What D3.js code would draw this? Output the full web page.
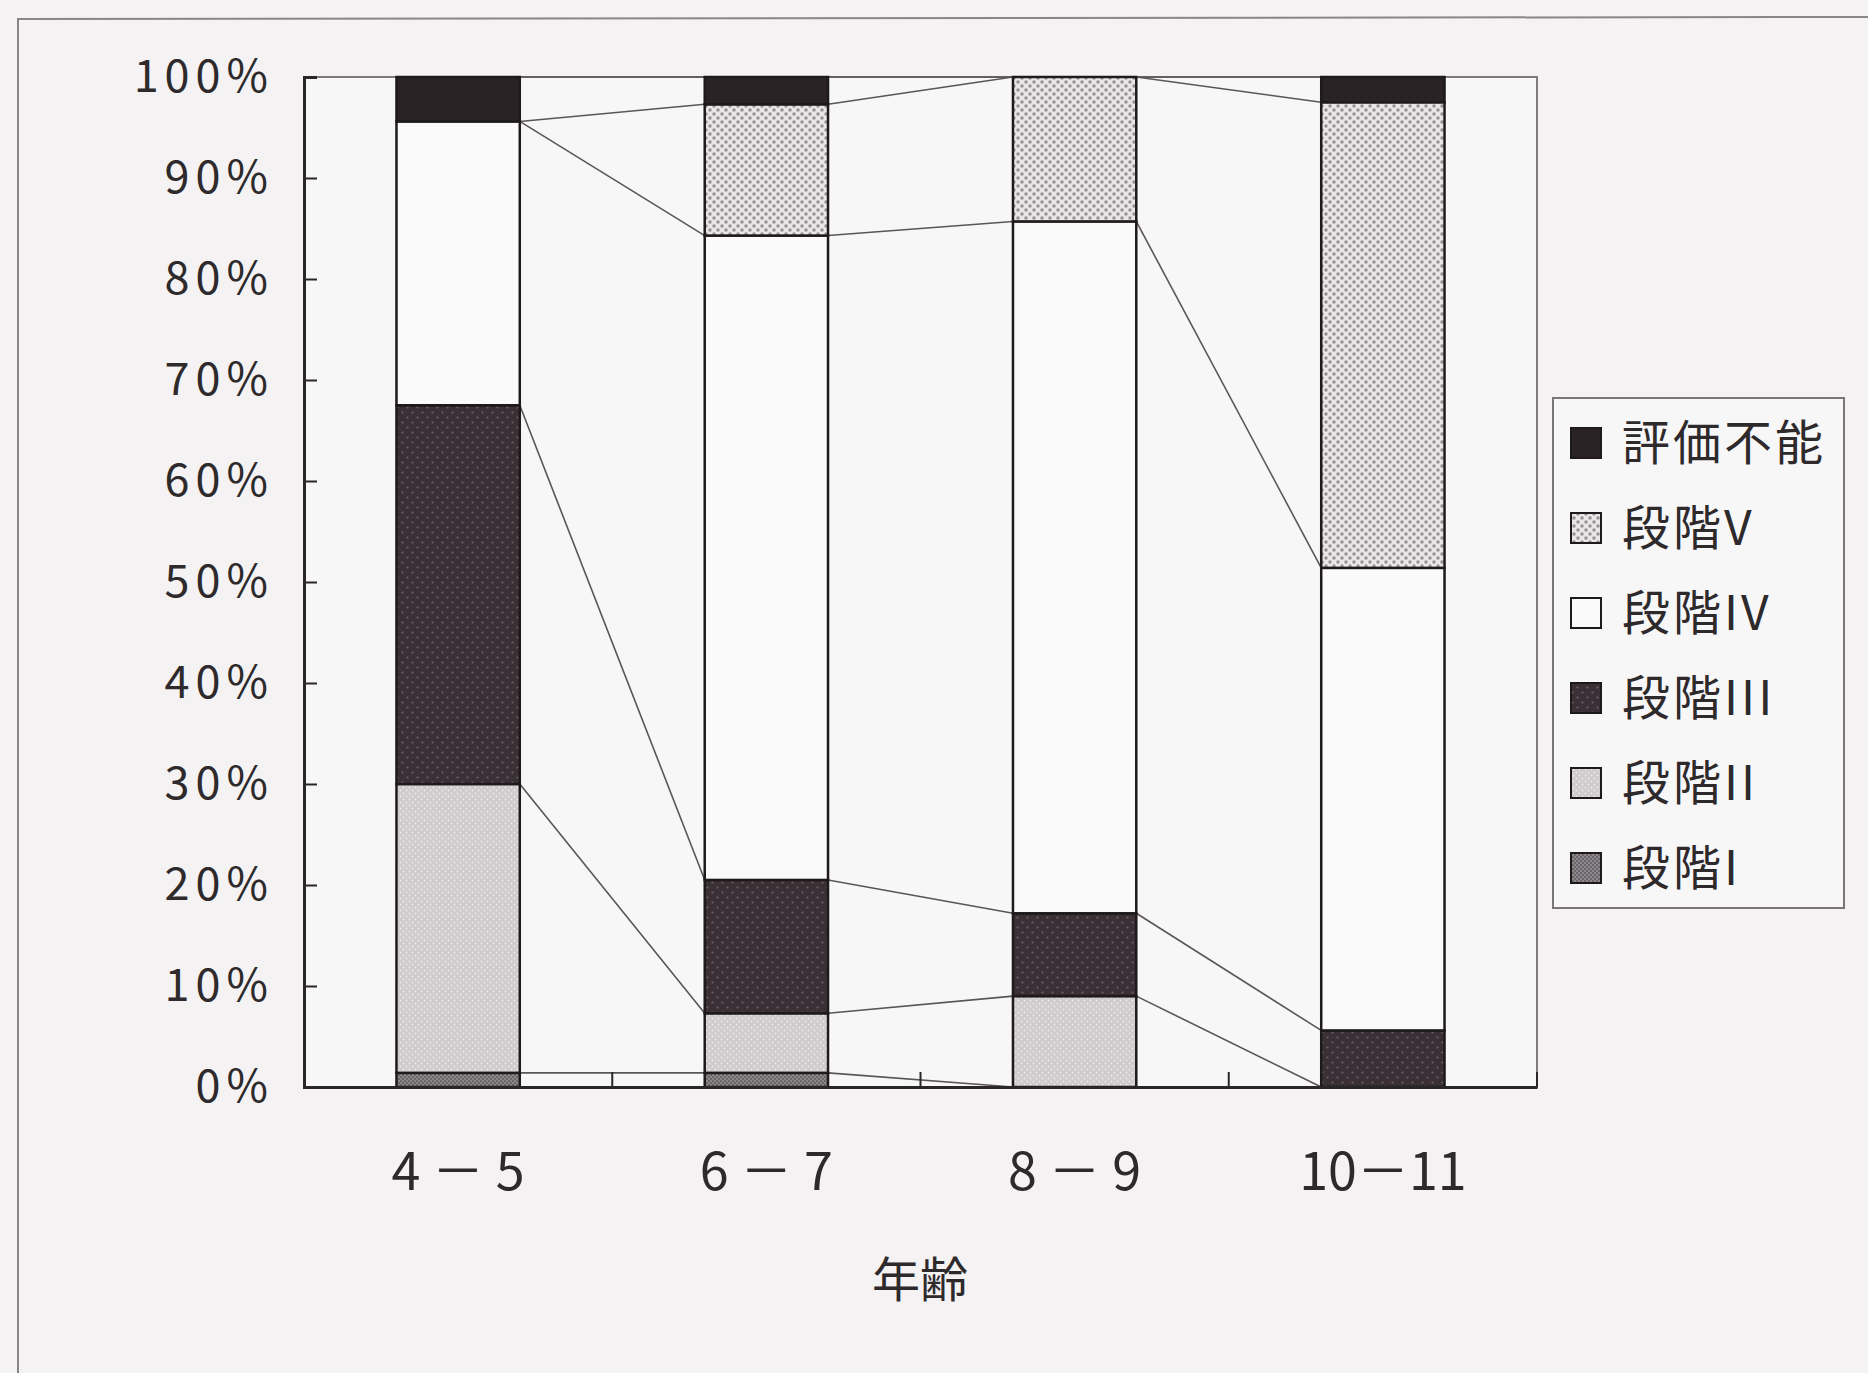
<!DOCTYPE html>
<html>
<head>
<meta charset="utf-8">
<script src="https://cdn.jsdelivr.net/npm/d3@7"></script>
<style>
  body { margin: 0; background: #f4f2f3; }
  text { font-family: "Noto Sans CJK JP", "Noto Sans", sans-serif; fill: #2e2a2c; }
</style>
</head>
<body>
<script>
// age groups and share (%) of each stage, bottom to top
var ages = ['4 － 5', '6 － 7', '8 － 9', '10－11'];
var stageI   = [1.4, 1.4, 0, 0];
var stageII  = [28.6, 5.9, 9.0, 0];
var stageIII = [37.5, 13.2, 8.2, 5.6];
var stageIV  = [28.1, 63.8, 68.5, 45.8];
var stageV   = [0, 13.0, 14.3, 46.1];
var unrated  = [4.4, 2.7, 0, 2.5];
var keys = ['段階I', '段階II', '段階III', '段階IV', '段階V', '評価不能'];
var yTicks = [0, 10, 20, 30, 40, 50, 60, 70, 80, 90, 100];

var width = 1868,
  height = 1373,
  plotLeft = 304,
  plotRight = 1537,
  plotTop = 77,
  plotBottom = 1087;

var rows = ages.map(function(a, i) {
  return {
    age: a,
    '段階I': stageI[i],
    '段階II': stageII[i],
    '段階III': stageIII[i],
    '段階IV': stageIV[i],
    '段階V': stageV[i],
    '評価不能': unrated[i]
  };
});

var svg = d3.select('body').append('svg').attr('width', width).attr('height', height);

// patterns for the scanned fills
var defs = svg.append('defs');
function dots(id, bg, dot, size, r) {
  var p = defs.append('pattern').attr('id', id).attr('patternUnits', 'userSpaceOnUse')
    .attr('width', size).attr('height', size);
  p.append('rect').attr('width', size).attr('height', size).attr('fill', bg);
  p.append('circle').attr('cx', size / 4).attr('cy', size / 4).attr('r', r).attr('fill', dot);
  p.append('circle').attr('cx', size * 3 / 4).attr('cy', size * 3 / 4).attr('r', r).attr('fill', dot);
}
dots('pI', '#8c878a', '#5a5558', 4, 0.9);
dots('pII', '#cfcbce', '#ecebec', 6, 0.9);
dots('pIII', '#3a3035', '#6a6267', 10, 1.1);
dots('pV', '#e8e6e7', '#959093', 8, 1.7);

var fills = {
  '段階I': 'url(#pI)',
  '段階II': 'url(#pII)',
  '段階III': 'url(#pIII)',
  '段階IV': '#fafafa',
  '段階V': 'url(#pV)',
  '評価不能': '#2a2326'
};

// outer chart border
svg.append('path')
  .attr('d', 'M18,' + (height + 5) + 'L18,19L' + (width + 5) + ',17')
  .attr('fill', 'none').attr('stroke', '#8a8688').attr('stroke-width', 2);

var x = d3.scaleBand().domain(ages).range([plotLeft, plotRight]).paddingInner(0.6).paddingOuter(0.3);
var y = d3.scaleLinear().domain([0, 100]).range([plotBottom, plotTop]);

// plot area
svg.append('rect')
  .attr('x', plotLeft).attr('y', plotTop).attr('width', plotRight - plotLeft).attr('height', plotBottom - plotTop)
  .attr('fill', '#f8f7f8').attr('stroke', '#7f7b7d').attr('stroke-width', 2);

var stacked = d3.stack().keys(keys)(rows);

// series lines between bars
var lines = svg.append('g');
stacked.forEach(function(s) {
  for (var i = 0; i < s.length - 1; i++) {
    lines.append('line')
      .attr('x1', x(ages[i]) + x.bandwidth()).attr('y1', y(s[i][1]))
      .attr('x2', x(ages[i + 1])).attr('y2', y(s[i + 1][1]))
      .attr('stroke', '#5a5558').attr('stroke-width', 1.6);
  }
});

svg.append('g').selectAll('g')
  .data(stacked)
  .enter().append('g')
  .attr('fill', function(d) { return fills[d.key]; })
  .selectAll('rect')
  .data(function(d) { return d.filter(function(p) { return p[1] > p[0]; }); })
  .enter().append('rect')
  .attr('x', function(d) { return x(d.data.age); })
  .attr('y', function(d) { return y(d[1]); })
  .attr('width', x.bandwidth())
  .attr('height', function(d) { return y(d[0]) - y(d[1]); })
  .attr('stroke', '#1e1a1c')
  .attr('stroke-width', 2.5);

// y axis
var yAxis = svg.append('g')
  .attr('transform', 'translate(' + plotLeft + ',0)')
  .call(d3.axisLeft(y).tickValues(yTicks).tickSize(-13).tickPadding(30)
    .tickFormat(function(d) { return d + '%'; }));
yAxis.select('.domain').attr('stroke', '#2a2628').attr('stroke-width', 3);
yAxis.selectAll('.tick line').attr('stroke', '#2a2628').attr('stroke-width', 2);
yAxis.selectAll('text').style('font-size', '45px').style('letter-spacing', '6px').attr('fill', '#2e2a2c');

// x axis
var xAxis = svg.append('g')
  .attr('transform', 'translate(0,' + plotBottom + ')')
  .call(d3.axisBottom(x).tickSize(0).tickPadding(66));
xAxis.select('.domain').attr('stroke', '#2a2628').attr('stroke-width', 3);
xAxis.selectAll('text').style('font-size', '52px').attr('fill', '#2e2a2c');
xAxis.selectAll('.bound')
  .data(d3.range(ages.length + 1))
  .enter().append('line')
  .attr('class', 'bound')
  .attr('x1', function(i) { return plotLeft + x.step() * i; })
  .attr('x2', function(i) { return plotLeft + x.step() * i; })
  .attr('y1', 0).attr('y2', -15)
  .attr('stroke', '#2a2628').attr('stroke-width', 2);

svg.append('text')
  .attr('x', 920).attr('y', 1297)
  .attr('text-anchor', 'middle')
  .style('font-size', '48px')
  .text('年齢');

// legend
var lg = svg.append('g');
lg.append('rect')
  .attr('x', 1553).attr('y', 398).attr('width', 291).attr('height', 510)
  .attr('fill', '#f8f7f8').attr('stroke', '#7a7678').attr('stroke-width', 2);
keys.slice().reverse().forEach(function(k, i) {
  var cy = 443 + i * 85;
  lg.append('rect')
    .attr('x', 1571).attr('y', cy - 15).attr('width', 30).attr('height', 30)
    .attr('fill', fills[k]).attr('stroke', '#1e1a1c').attr('stroke-width', 2);
  lg.append('text')
    .attr('x', 1622).attr('y', cy)
    .attr('dy', '0.36em')
    .style('font-size', '48px')
    .style('letter-spacing', '3px')
    .text(k);
});
</script>
</body>
</html>
